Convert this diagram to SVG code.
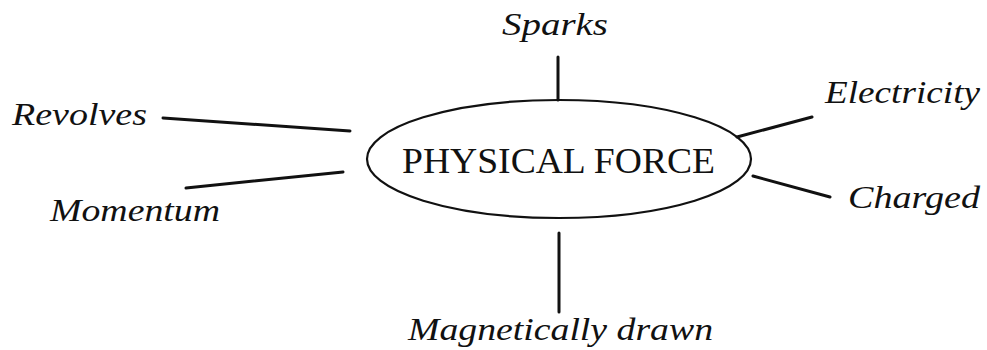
<svg xmlns="http://www.w3.org/2000/svg" width="987" height="350" viewBox="0 0 987 350">
<style>
.lbl{font-family:"Liberation Serif","Times New Roman",serif;font-style:italic;font-size:31px;fill:#111}
.core{font-family:"Liberation Serif","Times New Roman",serif;font-size:35px;fill:#111}
.ln{stroke:#111;stroke-width:3;stroke-linecap:round;fill:none}
</style>
<rect width="987" height="350" fill="#fff"/>
<g id="center">
<ellipse cx="559" cy="159" rx="192" ry="59" fill="none" stroke="#111" stroke-width="2.2"/>
<text class="core" x="402" y="173" textLength="313" lengthAdjust="spacingAndGlyphs">PHYSICAL FORCE</text>
</g>
<g id="connectors">
<line class="ln" x1="558" y1="57" x2="558" y2="100"/>
<line class="ln" x1="163" y1="118" x2="350" y2="131"/>
<line class="ln" x1="186" y1="188" x2="343" y2="172"/>
<line class="ln" x1="737" y1="137" x2="812" y2="117"/>
<line class="ln" x1="753" y1="176" x2="830" y2="197"/>
<line class="ln" x1="559" y1="233" x2="559" y2="312"/>
</g>
<g id="sparks"><text class="lbl" x="502" y="35" textLength="106" lengthAdjust="spacingAndGlyphs">Sparks</text></g>
<g id="revolves"><text class="lbl" x="12" y="125" textLength="135" lengthAdjust="spacingAndGlyphs">Revolves</text></g>
<g id="momentum"><text class="lbl" x="50" y="221" textLength="170" lengthAdjust="spacingAndGlyphs">Momentum</text></g>
<g id="electricity"><text class="lbl" x="825" y="103" textLength="155" lengthAdjust="spacingAndGlyphs">Electricity</text></g>
<g id="charged"><text class="lbl" x="848" y="208" textLength="132" lengthAdjust="spacingAndGlyphs">Charged</text></g>
<g id="magnetically"><text class="lbl" x="408" y="340" textLength="305" lengthAdjust="spacingAndGlyphs">Magnetically drawn</text></g>
</svg>
